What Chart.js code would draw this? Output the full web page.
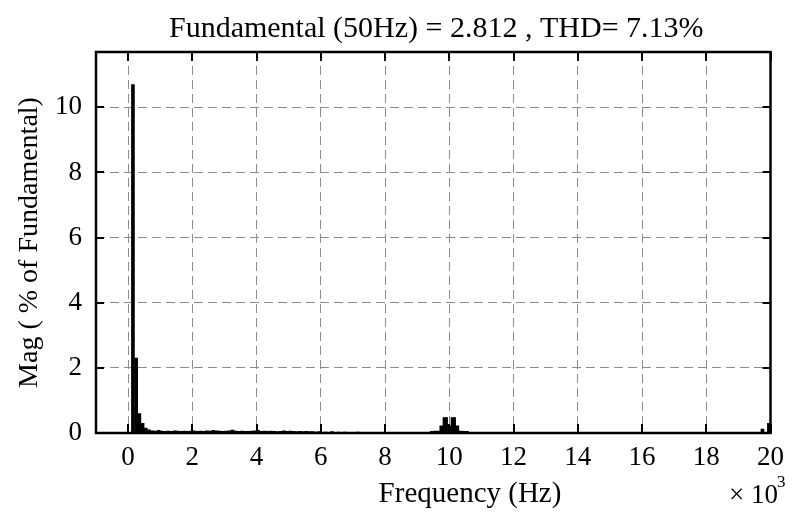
<!DOCTYPE html>
<html>
<head>
<meta charset="utf-8">
<script src="https://cdn.jsdelivr.net/npm/chart.js@4"></script>
<style>
  html, body { margin: 0; padding: 0; background: #fff; }
  canvas { display: block; }
</style>
</head>
<body>
<canvas id="fft" width="793" height="519"></canvas>
<script>
// Data (frequency in Hz, magnitude in % of fundamental)
const freqHz = [150, 250, 350, 450, 550, 650, 750, 850, 950, 1050, 1150, 1250, 1350, 1450, 1550, 1650, 1750, 1850, 1950,
  2050, 2150, 2250, 2350, 2450, 2550, 2650, 2750, 2850, 2950, 3050, 3150, 3250, 3350, 3450, 3550, 3650, 3750, 3850, 3950,
  4050, 4150, 4250, 4350, 4450, 4550, 4650, 4750, 4850, 4950, 5050, 5150, 5250, 5350, 5450, 5550, 5650, 5750, 5850, 5950,
  6150, 6350, 6550, 6750, 6950, 7150, 7350, 7550, 7750, 7950, 8250, 8550, 8850, 9150,
  9450, 9550, 9650, 9750, 9850, 9900, 10000, 10100, 10150, 10250, 10350, 10450, 10550,
  11050, 11550, 12050, 12550, 13050, 13550, 14050, 14550, 15050, 15550, 16050, 16550, 17050, 17550, 18050, 18550, 19050, 19550,
  19750, 19950];
const magPct = [10.7, 2.3, 0.6, 0.3, 0.15, 0.1, 0.07, 0.06, 0.08, 0.06, 0.05, 0.06, 0.05, 0.07, 0.06, 0.05, 0.06, 0.05, 0.06,
  0.07, 0.05, 0.06, 0.05, 0.07, 0.06, 0.08, 0.07, 0.06, 0.05, 0.06, 0.07, 0.09, 0.06, 0.05, 0.06, 0.05, 0.05, 0.06, 0.07,
  0.08, 0.05, 0.06, 0.05, 0.06, 0.05, 0.04, 0.05, 0.07, 0.05, 0.06, 0.05, 0.04, 0.05, 0.04, 0.05, 0.04, 0.04, 0.03, 0.04,
  0.03, 0.04, 0.03, 0.03, 0.02, 0.03, 0.02, 0.02, 0.02, 0.02, 0.02, 0.01, 0.02, 0.02,
  0.05, 0.06, 0.06, 0.22, 0.47, 0.47, 0.22, 0.47, 0.47, 0.22, 0.06, 0.05, 0.05,
  0.02, 0.02, 0.01, 0.02, 0.01, 0.01, 0.02, 0.01, 0.01, 0.01, 0.02, 0.01, 0.01, 0.01, 0.01, 0.01, 0.01, 0.01,
  0.12, 0.3];

const xTicks = [0, 2, 4, 6, 8, 10, 12, 14, 16, 18, 20];   // x 10^3 Hz
const yTicks = [0, 2, 4, 6, 8, 10];

const titleText = 'Fundamental (50Hz) = 2.812 , THD= 7.13%';
const serif = '"Liberation Serif", "Times New Roman", serif';

// frame, inward tick marks and the extra text MATLAB puts around the axes
const matlabAxes = {
    id: 'matlabAxes',
    afterDraw(chart) {
        const { ctx, chartArea: a, scales } = chart;
        ctx.save();
        ctx.strokeStyle = '#000';
        ctx.lineWidth = 2;
        ctx.setLineDash([]);
        ctx.beginPath();
        xTicks.forEach(v => {
            const px = Math.round(scales.x.getPixelForValue(v));
            ctx.moveTo(px, a.bottom); ctx.lineTo(px, a.bottom - 9);
            ctx.moveTo(px, a.top); ctx.lineTo(px, a.top + 9);
        });
        yTicks.forEach(v => {
            const py = Math.round(scales.y.getPixelForValue(v));
            ctx.moveTo(a.left, py); ctx.lineTo(a.left + 8, py);
            ctx.moveTo(a.right, py); ctx.lineTo(a.right - 8, py);
        });
        ctx.stroke();
        ctx.lineWidth = 2.5;
        ctx.strokeRect(a.left, a.top, a.right - a.left, a.bottom - a.top);

        ctx.fillStyle = '#000';
        ctx.textBaseline = 'alphabetic';
        ctx.textAlign = 'center';
        ctx.font = '30px ' + serif;
        ctx.fillText(titleText, (a.left + a.right) / 2 + 3, 37);
        ctx.font = '29px ' + serif;
        ctx.fillText('Frequency (Hz)', 470, 502);
        ctx.font = '27px ' + serif;
        ctx.textAlign = 'left';
        ctx.fillText('\u00d7 10', 729, 503);
        ctx.font = '17px ' + serif;
        ctx.fillText('3', 777, 487);
        ctx.restore();
    }
};

new Chart(document.getElementById('fft'), {
    type: 'bar',
    data: {
        datasets: [{
            data: freqHz.map((f, i) => ({ x: f / 1000, y: magPct[i] })),
            backgroundColor: '#000',
            borderWidth: 0,
            barThickness: 3,
            grouped: false
        }]
    },
    options: {
        responsive: false,
        animation: false,
        devicePixelRatio: 1,
        layout: { padding: { top: 52, right: 21, left: 0, bottom: 0 } },
        plugins: { legend: { display: false }, tooltip: { enabled: false }, title: { display: false } },
        scales: {
            x: {
                type: 'linear',
                min: -1,
                max: 20,
                offset: false,
                afterBuildTicks: s => { s.ticks = xTicks.map(v => ({ value: v })); },
                afterFit: s => { s.height = 86; },
                grid: { offset: false, color: '#8c8c8c', lineWidth: 1, drawTicks: false },
                border: { display: false, dash: [9, 5] },
                ticks: { color: '#000', padding: 9, maxRotation: 0, font: { family: serif, size: 27 } }
            },
            y: {
                min: 0,
                max: 11.7,
                afterBuildTicks: s => { s.ticks = yTicks.map(v => ({ value: v })); },
                afterFit: s => { s.width = 96; },
                grid: { color: '#8c8c8c', lineWidth: 1, drawTicks: false },
                border: { display: false, dash: [9, 5] },
                ticks: { color: '#000', padding: 14, font: { family: serif, size: 27 } },
                title: {
                    display: true,
                    text: 'Mag ( % of Fundamental)',
                    color: '#000',
                    font: { family: serif, size: 28 },
                    padding: { top: 13, bottom: 0 }
                }
            }
        }
    },
    plugins: [matlabAxes]
});
</script>
</body>
</html>
